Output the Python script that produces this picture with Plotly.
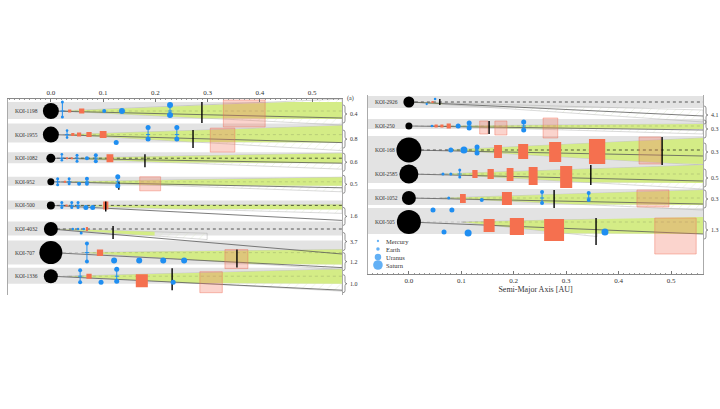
import numpy as np
import plotly.graph_objects as go

W, H = 720, 409

# ======================= DATA =======================
left_koi = ["KOI-1198", "KOI-1955", "KOI-1082", "KOI-952", "KOI-500", "KOI-4032", "KOI-707", "KOI-1336"]
left_ratio = ["0.4", "0.8", "0.6", "0.5", "1.6", "3.7", "1.2", "1.0"]
left_star_r = [0.80, 0.80, 0.45, 0.35, 0.40, 0.70, 1.15, 0.70]

right_koi = ["KOI-2926", "KOI-250", "KOI-168", "KOI-2585", "KOI-1052", "KOI-505"]
right_ratio = ["4.1", "0.3", "0.3", "0.5", "0.3", "1.3"]
right_star_r = [0.55, 0.35, 1.25, 0.95, 0.70, 1.20]

# known (transiting) planets: (a [AU], width [AU], incl. lo, incl. hi)
left_tr = [
    [(0.036, 0.006, -1.5, 1.5), (0.059, 0.010, -2.5, 2.5)],
    [(0.042, 0.006, -1.5, 1.5), (0.054, 0.008, -2, 2), (0.073, 0.010, -2.5, 2.5), (0.100, 0.013, -3.5, 3.5)],
    [(0.031, 0.004, -1, 1), (0.040, 0.004, -1, 1), (0.113, 0.013, -4, 4)],
    [(0.027, 0.004, -1, 1)],
    [(0.030, 0.004, -1, 1), (0.105, 0.010, -4, 4)],
    [(0.069, 0.004, -2, 2)],
    [(0.094, 0.012, -3, 3.5)],
    [(0.073, 0.010, -2.5, 2.5), (0.174, 0.023, -2, 11)],
]
right_tr = [
    [(0.045, 0.004, -1, 1)],
    [(0.052, 0.006, -1.5, 1.5), (0.063, 0.006, -1.5, 1.5), (0.076, 0.008, -2.5, 2.5)],
    [(0.170, 0.015, -5, 8), (0.218, 0.019, -6, 9), (0.279, 0.023, -8, 12), (0.359, 0.031, -11, 14)],
    [(0.126, 0.010, -4, 4), (0.156, 0.012, -5, 5), (0.193, 0.013, -6, 7), (0.237, 0.017, -7, 11), (0.300, 0.023, -8, 14)],
    [(0.103, 0.011, -4, 5), (0.187, 0.019, -6, 7)],
    [(0.153, 0.021, -3, 10), (0.206, 0.027, -4, 13), (0.277, 0.038, -3, 19)],
]

# predicted planets: (a [AU], radius [R_earth], incl. offset)
left_pred = [
    [(0.102, 1.35, 0), (0.136, 3.3, 0)],
    [(0.125, 2.2, 8)],
    [(0.069, 1.35, 0)],
    [(0.054, 1.35, 2)],
    [(0.067, 2.2, 2), (0.080, 2.2, 2)],
    [(0.042, 0.5, 0), (0.052, 0.5, 0), (0.058, 0.71, 4), (0.063, 0.5, 0)],
    [(0.121, 3.3, 8), (0.169, 3.3, 8), (0.215, 3.3, 8), (0.255, 3.3, 8)],
    [(0.096, 2.2, 6), (0.234, 2.2, 6)],
]
right_pred = [
    [(0.034, 0.4, 2), (0.050, 0.5, -3)],
    [(0.044, 0.5, 0), (0.094, 2.2, 0)],
    [(0.080, 2.2, 0), (0.105, 4.7, 0)],
    [(0.065, 0.71, 0), (0.080, 0.71, 0)],
    [(0.076, 0.71, 0), (0.139, 1.35, 2)],
    [(0.046, 2.2, -12), (0.082, 2.2, -12), (0.067, 2.2, 10), (0.113, 4.7, 11), (0.374, 4.7, 10)],
]

# predicted planets with two inclination solutions: (a, radius, incl. lo, incl. hi)
left_pair = [
    [(0.022, 0.71, -9, 6), (0.228, 3.3, -6, 4)],
    [(0.031, 0.5, -4, 3), (0.186, 2.2, -7, 4.5), (0.241, 2.2, -7, 4.5)],
    [(0.021, 0.5, -4, 2), (0.050, 0.71, -3, 3), (0.086, 1.35, -3, 3)],
    [(0.013, 0.71, -3, 3), (0.035, 0.71, -3, 2), (0.069, 1.35, -3, 2), (0.128, 2.2, -5, 4)],
    [(0.021, 0.71, -3, 2), (0.040, 0.71, -3, 2), (0.052, 0.71, -3, 2)],
    [],
    [(0.069, 1.35, -9, 9)],
    [(0.056, 1.35, -6, 6), (0.126, 2.2, -7, 5)],
]
right_pair = [
    [],
    [(0.115, 2.2, -3, 2), (0.219, 2.2, -4, 4)],
    [(0.130, 2.2, -3, 3)],
    [(0.097, 0.71, -4, 3)],
    [(0.254, 1.35, -6, 5), (0.343, 1.35, -5, 2)],
    [],
]

# stability limits: (a, incl. lo, incl. hi)
left_limit = [(0.289, -9, 12), (0.272, -4.5, 13.5), (0.180, -4, 9), (0.130, 0, 8),
              (0.105, -4, 6), (0.119, -3, 10), (0.356, -3, 15), (0.232, -8, 14)]
right_limit = [(0.059, -3, 3), (0.153, -5, 8), (0.483, -13, 15), (0.347, -9, 11),
               (0.277, -8, 10), (0.357, -4, 23)]

# habitable-zone boxes: (a0, a1, incl. lo, incl. hi)
left_hz = [[(0.330, 0.410, -11, 16)], [(0.305, 0.352, -6.5, 17.5)], [], [(0.170, 0.210, -5, 9)],
           [], [], [(0.333, 0.377, -3, 16)], [(0.285, 0.328, -4.5, 16.5)]]
right_hz = [[], [(0.135, 0.151, -5, 8), (0.164, 0.187, -5, 9), (0.256, 0.284, -8, 12)],
            [(0.439, 0.481, -13, 14)], [], [(0.435, 0.496, -8, 9)], [(0.469, 0.548, -4, 32)]]

legend_names = ["Mercury", "Earth", "Uranus", "Saturn"]
legend_radii = [0.38, 1.0, 4.0, 9.45]

tick_vals = [0.0, 0.1, 0.2, 0.3, 0.4, 0.5]
tick_text = ["0.0", "0.1", "0.2", "0.3", "0.4", "0.5"]

# ======================= STYLE / GEOMETRY =======================
FONT = "Liberation Serif, DejaVu Serif, serif"
GREEN = "#d4ec86"
GREY = "#e3e3e3"
BLUE = "#1f8ef1"
RED = "#f5704f"

LEFT = dict(xa="x", ya="y", pitch=23.6, xlo=-0.082, xhi=0.557, name_x=-0.073,
            band_top=[-9, -11, -6, -5, -5, -7.5, -12, -8.5], band_bot=[8, 8, 5, 4, 4, 6.5, 12, 7.5],
            apex=[0.02, 0.03, 0.02, 0.02, 0.02, 0.01, 0.06, 0.03],
            wtop=[-12, -9, -5, -4.5, -1, 8, -3, -7], wbot=[14, 16, 11, 10, 8, 20, 17, 15],
            slant=[7, 8, 5, 6, 15, 25, 15, 14],
            dark=[False, False, True, False, True, True, False, False],
            gmax=[None, None, None, None, None, 0.2, None, None],
            hmax=[None, None, None, None, None, 0.3, None, None],
            lab=[3, 4.5, 4, 2.5, 11, 12.5, 9, 7.5], brace_x=343)
RIGHT = dict(xa="x2", ya="y2", pitch=24.0, xlo=-0.078, xhi=0.561, name_x=-0.069,
             band_top=[-6, -7, -14, -11, -9, -14], band_bot=[6, 3, 14, 9, 7, 12],
             apex=[0.0, 0.04, 0.07, 0.06, 0.06, 0.10],
             wtop=[8, -2, -12, -9, -8, -5], wbot=[20, 8, 15, 15, 12, 26],
             slant=[14, 4, 6, 7, 6, 12],
             dark=[True, False, True, False, False, False],
             gmax=[0.065, None, None, None, None, None],
             hmax=[None, None, None, None, None, 0.36],
             lab=[13, 3, 2, 4, 1, 8], brace_x=704)


def psize(r):
    return 3.5 * r ** 0.45


fig = go.Figure()
shapes = []
annotations = []


def add_panel(P, kois, ratios, star_r, trs, preds, pairs, limits, hzs):
    xa, ya, pitch = P["xa"], P["ya"], P["pitch"]
    n = len(kois)
    cys = [pitch * i for i in range(n)]
    xend = P["xhi"]
    # grey bands
    for i, cy in enumerate(cys):
        shapes.append(dict(type="rect", xref=xa, yref=ya, x0=P["xlo"], x1=xend,
                           y0=cy + P["band_top"][i], y1=cy + P["band_bot"][i],
                           fillcolor=GREY, line=dict(width=0), layer="below"))
    hx, hy, gx, gy = [], [], [], []
    for i, cy in enumerate(cys):
        a0 = P["apex"][i]
        xs = np.linspace(a0, xend, 300)
        t = (xs - a0) / (xend - a0)
        top = P["wtop"][i] * t
        bot = P["wbot"][i] * t
        hm = P["hmax"][i] if P["hmax"][i] is not None else xend
        m = xs <= hm
        hx += list(xs[m]) + list(xs[m][::-1]) + [None]
        hy += list(cy + top[m]) + list(cy + bot[m][::-1]) + [None]
        gm = P["gmax"][i] if P["gmax"][i] is not None else xend
        gt = np.maximum(P["band_top"][i], top)
        gb = np.minimum(P["band_bot"][i], bot)
        m = (xs <= gm) & (gt < gb)
        gx += list(xs[m]) + list(xs[m][::-1]) + [None]
        gy += list(cy + gt[m]) + list(cy + gb[m][::-1]) + [None]
    fig.add_trace(go.Scatter(x=hx, y=hy, xaxis=xa, yaxis=ya, mode="lines", fill="toself",
                             fillcolor="rgba(0,0,0,0)", line=dict(width=0.6, color="rgba(150,150,150,0.6)"),
                             fillpattern=dict(shape="/", fgcolor="#d3e3c0", bgcolor="rgba(255,255,255,0)",
                                              size=6, solidity=0.12),
                             hoverinfo="skip", showlegend=False))
    fig.add_trace(go.Scatter(x=gx, y=gy, xaxis=xa, yaxis=ya, mode="lines", fill="toself",
                             fillcolor=GREEN, line=dict(width=0), hoverinfo="skip", showlegend=False))
    # dotted & slanted lines
    for i, cy in enumerate(cys):
        col = "rgba(20,20,20,0.85)" if P["dark"][i] else "rgba(60,60,60,0.22)"
        fig.add_trace(go.Scatter(x=[0.0, xend], y=[cy, cy], xaxis=xa, yaxis=ya, mode="lines",
                                 line=dict(color=col, width=0.8, dash="dot"), hoverinfo="skip", showlegend=False))
        fig.add_trace(go.Scatter(x=[0.0, xend], y=[cy, cy + P["slant"][i]], xaxis=xa, yaxis=ya, mode="lines",
                                 line=dict(color="#5a5a5a", width=0.8), hoverinfo="skip", showlegend=False))
    # habitable-zone boxes
    bx, by = [], []
    for i, cy in enumerate(cys):
        for (a0, a1, lo, hi) in hzs[i]:
            bx += [a0, a1, a1, a0, a0, None]
            by += [cy + lo, cy + lo, cy + hi, cy + hi, cy + lo, None]
    fig.add_trace(go.Scatter(x=bx, y=by, xaxis=xa, yaxis=ya, mode="lines", fill="toself",
                             fillcolor="rgba(242,120,98,0.32)", line=dict(width=0.8, color="rgba(240,110,90,0.55)"),
                             hoverinfo="skip", showlegend=False))
    # transiting planets
    rx, ry = [], []
    for i, cy in enumerate(cys):
        for (a, w, lo, hi) in trs[i]:
            rx += [a - w / 2, a + w / 2, a + w / 2, a - w / 2, a - w / 2, None]
            ry += [cy + lo, cy + lo, cy + hi, cy + hi, cy + lo, None]
    fig.add_trace(go.Scatter(x=rx, y=ry, xaxis=xa, yaxis=ya, mode="lines", fill="toself",
                             fillcolor=RED, line=dict(width=0), hoverinfo="skip", showlegend=False))
    # stability limits
    lx, ly = [], []
    for i, cy in enumerate(cys):
        a, lo, hi = limits[i]
        lx += [a, a, None]
        ly += [cy + lo, cy + hi, None]
    fig.add_trace(go.Scatter(x=lx, y=ly, xaxis=xa, yaxis=ya, mode="lines",
                             line=dict(color="black", width=1.4), hoverinfo="skip", showlegend=False))
    # pairs
    px_, py_, mx, my, ms = [], [], [], [], []
    for i, cy in enumerate(cys):
        for (a, r, lo, hi) in pairs[i]:
            px_ += [a, a, None, a - 0.004, a + 0.004, None]
            py_ += [cy + lo, cy + hi, None, cy, cy, None]
            mx += [a, a]
            my += [cy + lo, cy + hi]
            ms += [psize(r), psize(r)]
    fig.add_trace(go.Scatter(x=px_, y=py_, xaxis=xa, yaxis=ya, mode="lines",
                             line=dict(color=BLUE, width=1.0), hoverinfo="skip", showlegend=False))
    for i, cy in enumerate(cys):
        for (a, r, off) in preds[i]:
            mx.append(a)
            my.append(cy + off)
            ms.append(psize(r))
    fig.add_trace(go.Scatter(x=mx, y=my, xaxis=xa, yaxis=ya, mode="markers",
                             marker=dict(color=BLUE, size=ms, opacity=1, line=dict(width=0)),
                             hoverinfo="skip", showlegend=False))
    # stars
    fig.add_trace(go.Scatter(x=[0.0] * n, y=cys, xaxis=xa, yaxis=ya, mode="markers",
                             marker=dict(color="#000000", size=[20 * r for r in star_r], opacity=1,
                                         line=dict(width=0)),
                             hoverinfo="skip", showlegend=False))
    # names and ratio labels
    for i, cy in enumerate(cys):
        annotations.append(dict(x=P["name_x"], y=cy, xref=xa, yref=ya, text=kois[i], showarrow=False,
                                xanchor="left", font=dict(family=FONT, size=5.5, color="#333")))
        ym = cy + P["lab"][i]
        x0 = P["brace_x"] / W
        dx = 4 / W
        xm = x0 + dx / 2
        yt, yb, r = ym - 9, ym + 9, 2
        path = (f"M {x0},{yt} Q {xm},{yt} {xm},{yt + r} L {xm},{ym - r} Q {xm},{ym} {x0 + dx},{ym} "
                f"Q {xm},{ym} {xm},{ym + r} L {xm},{yb - r} Q {xm},{yb} {x0},{yb}")
        shapes.append(dict(type="path", xref="paper", yref=ya, path=path,
                           line=dict(color="#666", width=0.7)))
        annotations.append(dict(x=(P["brace_x"] + 5) / W, y=ym, xref="paper", yref=ya, text=ratios[i],
                                showarrow=False, xanchor="left",
                                font=dict(family=FONT, size=6, color="#333")))


add_panel(LEFT, left_koi, left_ratio, left_star_r, left_tr, left_pred, left_pair, left_limit, left_hz)
add_panel(RIGHT, right_koi, right_ratio, right_star_r, right_tr, right_pred, right_pair, right_limit, right_hz)

# legend (right panel)
leg_y = [139, 147, 155, 163]
fig.add_trace(go.Scatter(x=[-0.059] * 4, y=leg_y, xaxis="x2", yaxis="y2", mode="markers",
                         marker=dict(color=BLUE, size=[psize(r) for r in legend_radii], line=dict(width=0)),
                         hoverinfo="skip", showlegend=False))
for nm, yy in zip(legend_names, leg_y):
    annotations.append(dict(x=-0.047, y=yy, xref="x2", yref="y2", text=nm, showarrow=False,
                            xanchor="left", font=dict(family=FONT, size=6.5, color="#333")))

annotations.append(dict(x=350 / W, y=1 - 93 / H, xref="paper", yref="paper", text="(a)", showarrow=False,
                        font=dict(family=FONT, size=6, color="#333")))

axis_common = dict(tickvals=tick_vals, ticktext=tick_text, ticks="inside", ticklen=3, tickwidth=0.6,
                   tickcolor="#777", showline=True, linecolor="#888", linewidth=0.8, showgrid=False,
                   zeroline=False, tickfont=dict(family=FONT, size=7, color="#333"),
                   minor=dict(dtick=0.01, ticklen=1.5, tickcolor="#999", ticks="inside"))

fig.update_layout(
    width=W, height=H, autosize=False, margin=dict(l=0, r=0, t=0, b=0),
    paper_bgcolor="white", plot_bgcolor="white", showlegend=False, hovermode=False,
    xaxis=dict(domain=[8 / W, 342 / W], range=[LEFT["xlo"], LEFT["xhi"]], side="top", anchor="y", **axis_common),
    yaxis=dict(domain=[1 - 295 / H, 1 - 99 / H], range=[184, -12], anchor="x", showticklabels=False,
               showgrid=False, zeroline=False, showline=True, mirror=True, linecolor="#aaa", linewidth=0.8, ticks=""),
    xaxis2=dict(domain=[368 / W, 703 / W], range=[RIGHT["xlo"], RIGHT["xhi"]], side="bottom", anchor="y2",
                title=dict(text="Semi-Major Axis [AU]", font=dict(family=FONT, size=8, color="#333"), standoff=2),
                **axis_common),
    yaxis2=dict(domain=[1 - 274 / H, 1 - 95 / H], range=[172, -7], anchor="x2", showticklabels=False,
                showgrid=False, zeroline=False, showline=True, mirror=True, linecolor="#aaa", linewidth=0.8, ticks=""),
    shapes=shapes, annotations=annotations,
)

fig.write_html("out.html", config={"displayModeBar": False},
               post_script="document.body.style.margin='0px';")
